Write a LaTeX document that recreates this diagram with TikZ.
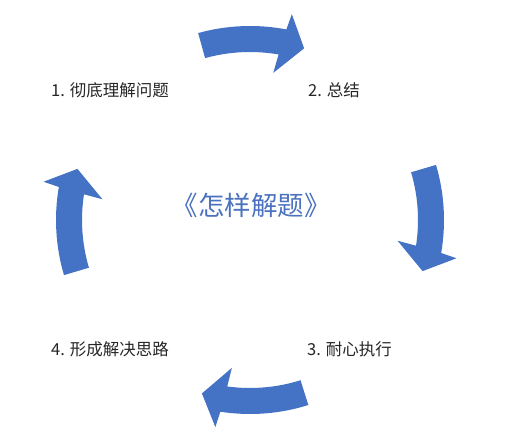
\documentclass[tikz,border=0pt]{standalone}
\usepackage{fontspec}
\setmainfont{Noto Sans CJK SC}
\newfontfamily\cjk{Noto Sans CJK SC}
\definecolor{arrowblue}{RGB}{68,114,196}
\definecolor{titleblue}{RGB}{74,114,190}
\definecolor{labelgray}{RGB}{38,38,38}
\newcommand{\cyclearrow}[1]{%
  \fill[arrowblue, shift={(250pt,222pt)}]
    ({#1+16.5}:194pt) arc[start angle={#1+16.5}, end angle={#1-9.8}, radius=194pt]
    -- ({#1-10.5}:210pt) -- ({#1-16.5}:180pt) -- ({#1-8}:149pt)
    -- ({#1-8.8}:168pt) arc[start angle={#1-8.8}, end angle={#1+16.5}, radius=168pt]
    -- cycle;}
\tikzset{
  steplabel/.style={anchor=west, inner sep=0pt, text=labelgray, font=\cjk\fontsize{16.5pt}{18pt}\selectfont},
  titlelabel/.style={inner sep=0pt, text=titleblue, font=\cjk\fontsize{26.5pt}{30pt}\selectfont}
}
\begin{document}
\begin{tikzpicture}
\useasboundingbox[fill=white] (0pt,0pt) rectangle (508pt,442pt);
\cyclearrow{89}
\cyclearrow{0}
\cyclearrow{-89}
\cyclearrow{180}
\node[steplabel] (s1) at (51pt,351.5pt) {1. 彻底理解问题};
\node[steplabel] (s2) at (308pt,351.5pt) {2. 总结};
\node[steplabel] (s3) at (307pt,92.5pt) {3. 耐心执行};
\node[steplabel] (s4) at (51pt,92.5pt) {4. 形成解决思路};
\node[titlelabel] (title) at (251pt,237pt) {《怎样解题》};
\end{tikzpicture}
\end{document}
